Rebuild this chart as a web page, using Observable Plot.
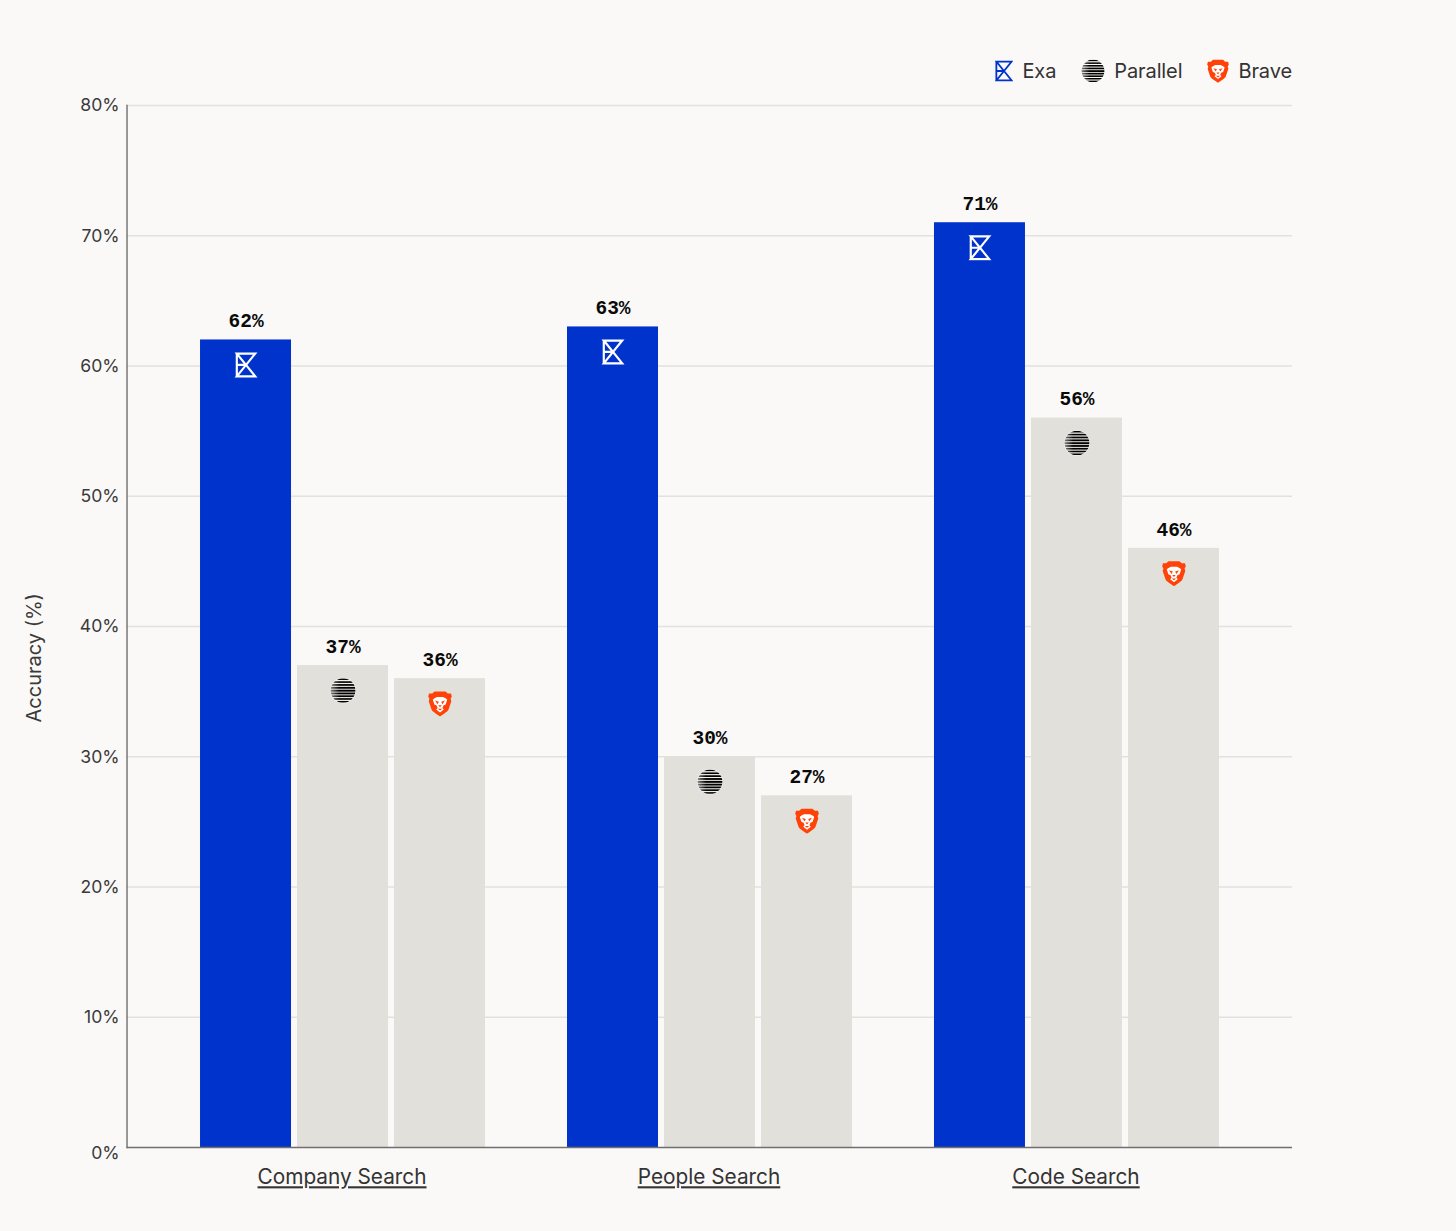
<!DOCTYPE html>
<html><head><meta charset="utf-8">
<script src="https://cdn.jsdelivr.net/npm/d3@7"></script>
<script src="https://cdn.jsdelivr.net/npm/@observablehq/plot@0.6"></script>
<style>
html,body{margin:0;padding:0;background:#FAF9F7;}
#wrap{position:relative;width:1456px;height:1231px;overflow:hidden;}
#wrap svg.chart{display:block;}
#legend{position:absolute;top:57px;right:164px;display:flex;align-items:center;height:27px;font:20px Inter,sans-serif;color:#333;letter-spacing:-0.1px;}
#legend span{display:flex;align-items:center;}
#legend img{display:block;margin-right:9px;}
.catlabels text{text-decoration:underline;text-decoration-thickness:1px;text-underline-offset:4px;text-decoration-skip-ink:auto;}
</style></head><body><div id="wrap"><div id="legend"></div></div>
<script>
const categories = ["Company Search", "People Search", "Code Search"];
const seriesNames = ["Exa", "Parallel", "Brave"];
const exaValues = [62, 63, 71];
const parallelValues = [37, 30, 56];
const braveValues = [36, 27, 46];
const yTicks = [0, 10, 20, 30, 40, 50, 60, 70, 80];
const yLabel = "Accuracy (%)";

const uri = s => "data:image/svg+xml," + encodeURIComponent(s);
const exaIcon = c => uri(`<svg xmlns="http://www.w3.org/2000/svg" viewBox="0 0 20 24"><path d="M1.5 1.5H18.5L1.5 22.5H18.5ZM1.5 1.5V22.5M1.5 12H10" fill="none" stroke="${c}" stroke-width="2"/></svg>`);
const parallelIcon = bg => uri(`<svg xmlns="http://www.w3.org/2000/svg" viewBox="0 0 24 24"><defs><clipPath id="c"><circle cx="12" cy="12" r="11.4"/></clipPath><linearGradient id="g"><stop offset="0" stop-color="#888"/><stop offset=".35" stop-color="#000"/><stop offset="1" stop-color="#000"/></linearGradient></defs><circle cx="12" cy="12" r="12" fill="${bg}"/><g clip-path="url(#c)" fill="url(#g)">${[0.8,3.4,6,8.6,11.2,13.8,16.4,19,21.6].map((y,i)=>`<rect x="0" y="${y}" width="24" height="${[1.4,1.5,1.6,1.7,1.8,1.7,1.6,1.5,1.4][i]}"/>`).join("")}</g></svg>`);
const braveIcon = uri(`<svg xmlns="http://www.w3.org/2000/svg" viewBox="0 0 24 26"><path d="M6.5 .8H17.5L19.8 3L23 2.8L23.8 6L22.6 8.2L23.3 10.6L20.6 18.7C19.9 20.7 17.6 22 16 23.1L12 25.8L8 23.1C6.4 22 4.1 20.7 3.4 18.7L.7 10.6L1.4 8.2L.2 6L1 2.8L4.2 3Z" fill="#FF4208"/><path d="M6 8L9 6.4H15L18 8L19.2 9.2L17.6 14L15.4 15L14.4 17.4L15.8 18.8L12 21.8L8.2 18.8L9.6 17.4L8.6 15L6.4 14L4.8 9.2Z" fill="#fff"/><path d="M7 10L10.8 11.2L9.6 13.6ZM17 10L13.2 11.2L14.4 13.6ZM10.2 14.6H13.8L12 16.6ZM9.8 18.2H14.2L12 20Z" fill="#FF4208"/></svg>`);

const valuesBySeries = [exaValues, parallelValues, braveValues];
const rows = categories.flatMap((category, i) =>
  seriesNames.map((series, j) => ({category, series, value: valuesBySeries[j][i]})));
const iconOn = {Exa: exaIcon("#fff"), Parallel: parallelIcon("#F0EFEC"), Brave: braveIcon};
const fmt = d => d + "%";
const font = "Inter, sans-serif";
// Spans the first facet's marks out to the whole plot frame.
const toFrame = {facetAnchor: "left", insetLeft: -73.5, insetRight: -807};

const chart = Plot.plot({
  width: 1456, height: 1231,
  marginLeft: 127, marginRight: 164, marginTop: 105, marginBottom: 84,
  style: {background: "transparent", fontFamily: font, fontSize: "18px"},
  className: "chart",
  fx: {domain: categories, paddingInner: 0.2234, paddingOuter: 0.199, label: null, axis: null, round: false},
  x: {domain: seriesNames, paddingInner: 0.062, paddingOuter: 0, axis: null, round: false},
  y: {domain: [0, 80], axis: null},
  marks: [
    Plot.ruleY(yTicks.slice(1), {y: d => d, stroke: "#E3E1DE", strokeWidth: 1.3, ...toFrame}),
    Plot.barY(rows, {fx: "category", x: "series", y: "value", fill: d => d.series === "Exa" ? "#0033CC" : "#E2E0DB"}),
    Plot.image(rows, {fx: "category", x: "series", y: "value", dy: 25, width: 26, height: 26, src: d => iconOn[d.series], preserveAspectRatio: "xMidYMid meet"}),
    Plot.text(rows, {fx: "category", x: "series", y: "value", dy: -19, text: d => fmt(d.value), fontFamily: "'Liberation Mono', monospace", fontWeight: 700, fontSize: 19.5, fill: "#0a0a0a"}),
    Plot.ruleY([0], {y: d => d, stroke: "#6f6f6d", strokeWidth: 1.4, ...toFrame}),
    Plot.frame({anchor: "left", stroke: "#6f6f6d", strokeWidth: 1.4, facetAnchor: "left", insetLeft: -73.5}),
    Plot.text(yTicks.slice(1), {y: d => d, text: fmt, frameAnchor: "left", textAnchor: "end", dx: -81, dy: 0.3, fill: "#3a3a3a", fontSize: 17.6, facetAnchor: "left"}),
    Plot.text([0], {y: d => d, text: fmt, frameAnchor: "left", textAnchor: "end", dx: -81, dy: 5.5, fill: "#3a3a3a", fontSize: 17.6, facetAnchor: "left"}),
    Plot.text([yLabel], {text: d => d, frameAnchor: "left", rotate: -90, dx: -166, dy: 96, fill: "#3a3a3a", fontSize: 20, facetAnchor: "left"}),
    Plot.axisFx({anchor: "bottom", tickSize: 0, tickPadding: 22, dx: -1, label: null, fontSize: 20.8, fill: "#333", className: "catlabels"})
  ]
});
document.getElementById("wrap").prepend(chart);

const legendIcons = [[exaIcon("#0033CC"), 18, 22], [parallelIcon("transparent"), 24, 24], [braveIcon, 22, 24]];
const legend = document.getElementById("legend");
seriesNames.forEach((name, i) => {
  const s = document.createElement("span");
  if (i) s.style.marginLeft = "25px";
  const im = document.createElement("img");
  im.src = legendIcons[i][0]; im.width = legendIcons[i][1]; im.height = legendIcons[i][2];
  s.append(im, name);
  legend.append(s);
});
</script></body></html>
